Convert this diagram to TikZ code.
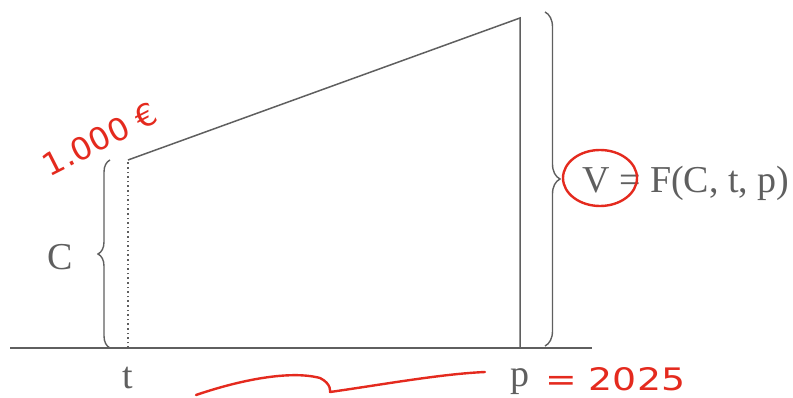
\documentclass[tikz,border=0pt]{standalone}
\usepackage{fontspec}
\setmainfont{Liberation Serif}
\newfontfamily\handfont{DejaVu Sans}
\usetikzlibrary{decorations.pathreplacing}
\definecolor{ink}{RGB}{95,95,95}
\definecolor{pen}{RGB}{228,42,30}
\tikzset{
  gline/.style={draw=ink, line width=1.5pt},
  gbrace/.style={draw=ink, line width=1.4pt, decorate},
  glabel/.style={text=ink, font=\fontsize{38}{40}\selectfont, inner sep=0pt},
  redpen/.style={draw=pen, line width=2.4pt, line cap=round, line join=round},
  redtext/.style={text=pen, font=\handfont\fontsize{31}{33}\selectfont, inner sep=0pt}
}
\begin{document}
\begin{tikzpicture}[x=1pt,y=-1pt]
\useasboundingbox (0,0) rectangle (793,398);
% base line and shape
\coordinate (L) at (10,348);
\coordinate (R) at (592,348);
\coordinate (tb) at (128,348);
\coordinate (tt) at (128,160);
\coordinate (pt) at (520,18);
\coordinate (pb) at (520,348);
\draw[gline] (L) -- (R);
\draw[gline] (tt) -- (pt) -- (pb);
\draw[draw=ink, line width=2pt, dash pattern=on 1.6pt off 3pt] (tb) -- (tt);
% braces
\draw[gbrace, decoration={brace, amplitude=12pt}] (110,348) -- (110,160);
\draw[gbrace, decoration={brace, amplitude=15pt}] (545,12) -- (545,346);
% labels
\node[glabel] (C) at (60,257) {C};
\node[glabel, anchor=west] (V) at (582,183) {V = F(C, t, p)};
\node[glabel] (t) at (128,378) {t};
\node[glabel] (p) at (520,382) {p};
% red annotations
\node[redtext, rotate=27, xscale=1.05] (amt) at (100,139) {1.000 €};
\draw[redpen] (600,178) ellipse [x radius=37pt, y radius=28pt];
\draw[redpen] (196,395) .. controls (240,380) and (290,370) .. (320,378)
  .. controls (332,384) and (330,392) .. (330,392)
  .. controls (380,385) and (440,374) .. (485,372);
\node[redtext, anchor=west, xscale=1.22] (yr) at (545,379) {= 2025};
\end{tikzpicture}
\end{document}
